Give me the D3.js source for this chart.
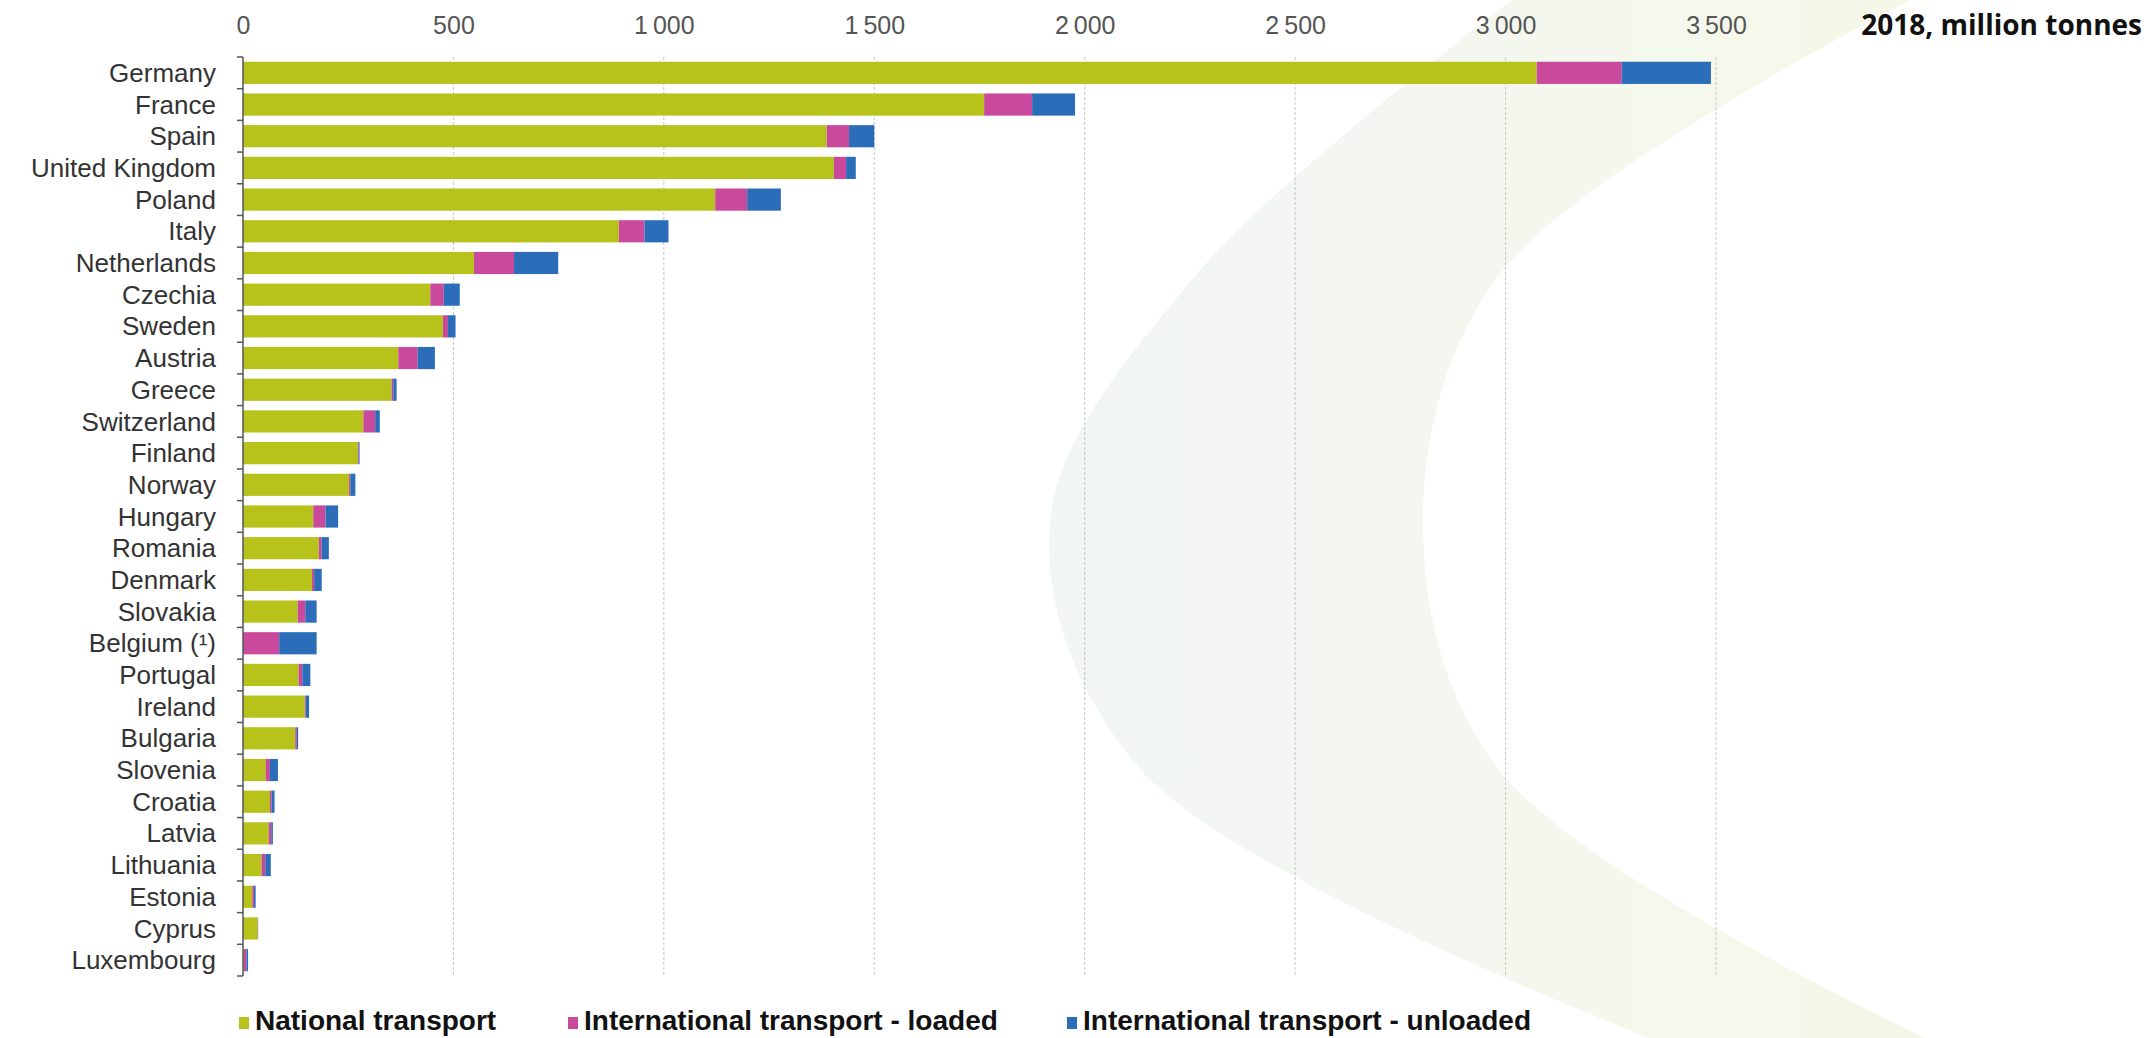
<!DOCTYPE html>
<html>
<head>
<meta charset="utf-8">
<script src="https://cdn.jsdelivr.net/npm/d3@7"></script>
<style>
  body { margin: 0; background: #fff; }
  svg { display: block; }
</style>
</head>
<body>
<svg id="chart" width="2156" height="1038"></svg>
<script>
// data (million tonnes, 2018)
const countries = ["Germany", "France", "Spain", "United Kingdom", "Poland", "Italy", "Netherlands",
  "Czechia", "Sweden", "Austria", "Greece", "Switzerland", "Finland", "Norway", "Hungary", "Romania",
  "Denmark", "Slovakia", "Belgium (\u00b9)", "Portugal", "Ireland", "Bulgaria", "Slovenia", "Croatia",
  "Latvia", "Lithuania", "Estonia", "Cyprus", "Luxembourg"];
const national = [3074, 1761, 1387, 1404, 1122, 893, 549, 445, 475, 369, 353, 286, 273, 252, 167, 180,
  164, 130, 0, 132, 147, 124, 54, 64, 61, 44, 22, 35, 2];
const intlLoaded = [202, 114, 53, 29, 76, 61, 95, 32, 12, 46, 4, 28, 2, 3, 29, 7,
  5, 18, 86, 9, 2, 4, 10, 4, 6, 9, 4, 0.5, 6];
const intlUnloaded = [212, 102, 60, 23, 80, 57, 105, 38, 18, 41, 8, 11, 2, 12, 30, 17,
  18, 27, 89, 19, 8, 3, 19, 7, 4, 13, 4, 0.5, 4];
const seriesNames = ["National transport", "International transport - loaded", "International transport - unloaded"];
const xTicks = [0, 500, 1000, 1500, 2000, 2500, 3000, 3500];
const unitLabel = "2018, million tonnes";

const colors = ["#b7c21b", "#c94a9c", "#2b6db8"];

const rows = countries.map((c, i) => ({
  country: c,
  s0: national[i],
  s1: intlLoaded[i],
  s2: intlUnloaded[i]
}));

const svg = d3.select("#chart");

// faint swoosh watermark in the background
const defs = svg.append("defs");
const grad = defs.append("linearGradient").attr("id", "swoosh").attr("x1", "0").attr("x2", "1");
grad.append("stop").attr("offset", "0").attr("stop-color", "#f1f5f5");
grad.append("stop").attr("offset", "0.5").attr("stop-color", "#f4f7ef");
grad.append("stop").attr("offset", "1").attr("stop-color", "#f5f8e7");
const outer = [[1512, 0], [1196, 275], [1050, 522], [1141, 770], [1650, 1038]];
const inner = [[1925, 1038], [1499, 770], [1423, 522], [1499, 275], [1911, 0]];
const curve = d3.line().curve(d3.curveCatmullRom);
svg.append("path")
  .attr("d", curve(outer) + curve(inner).replace("M", "L") + "Z")
  .attr("fill", "url(#swoosh)");

const x = d3.scaleLinear().domain([0, 3500]).range([243, 1716]);
const y = d3.scaleBand().domain(countries).range([57, 976]).paddingInner(0.3).paddingOuter(0.15);

// gridlines
svg.append("g")
  .selectAll("line")
  .data(xTicks.slice(1))
  .join("line")
  .attr("x1", d => x(d)).attr("x2", d => x(d))
  .attr("y1", y.range()[0]).attr("y2", y.range()[1])
  .attr("stroke", "#c6c6c6")
  .attr("stroke-width", 1)
  .attr("stroke-dasharray", "3,2");

// top axis labels
const fmt = d3.formatLocale({ thousands: "\u2009", grouping: [3], decimal: ".", currency: ["", ""] }).format(",d");
const xAxis = svg.append("g")
  .attr("transform", "translate(0,36)")
  .call(d3.axisTop(x).tickValues(xTicks).tickSize(0).tickPadding(2).tickFormat(fmt));
xAxis.select(".domain").remove();
xAxis.selectAll("text")
  .attr("font-family", "'Liberation Sans', Arial, sans-serif")
  .attr("font-size", 25)
  .attr("fill", "#555");

// stacked bars
const stack = d3.stack().keys(["s0", "s1", "s2"]);
const layers = stack(rows);
svg.append("g")
  .selectAll("g")
  .data(layers)
  .join("g")
  .attr("fill", (d, i) => colors[i])
  .selectAll("rect")
  .data(d => d)
  .join("rect")
  .attr("x", d => x(d[0]))
  .attr("y", d => y(d.data.country))
  .attr("width", d => Math.max(0, x(d[1]) - x(d[0])))
  .attr("height", y.bandwidth());

// left axis line with little ticks between categories
const yAxis = svg.append("g");
yAxis.append("line")
  .attr("x1", x(0)).attr("x2", x(0))
  .attr("y1", y.range()[0]).attr("y2", y.range()[1])
  .attr("stroke", "#555").attr("stroke-width", 1.5);
yAxis.selectAll(".tk")
  .data(d3.range(countries.length + 1))
  .join("line")
  .attr("class", "tk")
  .attr("x1", x(0) - 6).attr("x2", x(0))
  .attr("y1", i => y.range()[0] + i * y.step())
  .attr("y2", i => y.range()[0] + i * y.step())
  .attr("stroke", "#555").attr("stroke-width", 1.5);

yAxis.selectAll("text")
  .data(countries)
  .join("text")
  .attr("x", 216)
  .attr("y", d => y(d) + y.bandwidth() / 2)
  .attr("dy", "0.35em")
  .attr("text-anchor", "end")
  .attr("font-family", "'Liberation Sans', Arial, sans-serif")
  .attr("font-size", 26)
  .attr("fill", "#333")
  .text(d => d);

// unit label
svg.append("text")
  .attr("x", 2142)
  .attr("y", 35)
  .attr("text-anchor", "end")
  .attr("font-family", "'Open Sans', sans-serif")
  .attr("font-weight", 700)
  .attr("font-size", 28)
  .attr("fill", "#111")
  .text(unitLabel);

// legend
const legendX = [239, 568, 1067];
const legend = svg.append("g")
  .selectAll("g")
  .data(seriesNames)
  .join("g")
  .attr("transform", (d, i) => `translate(${legendX[i]},1020)`);
legend.append("rect")
  .attr("x", 0).attr("y", -3)
  .attr("width", 10).attr("height", 12)
  .attr("fill", (d, i) => colors[i]);
legend.append("text")
  .attr("x", 16)
  .attr("y", 0)
  .attr("dy", "0.35em")
  .attr("font-family", "'Liberation Sans', Arial, sans-serif")
  .attr("font-weight", 700)
  .attr("font-size", 28)
  .attr("fill", "#111")
  .text(d => d);
</script>
</body>
</html>
